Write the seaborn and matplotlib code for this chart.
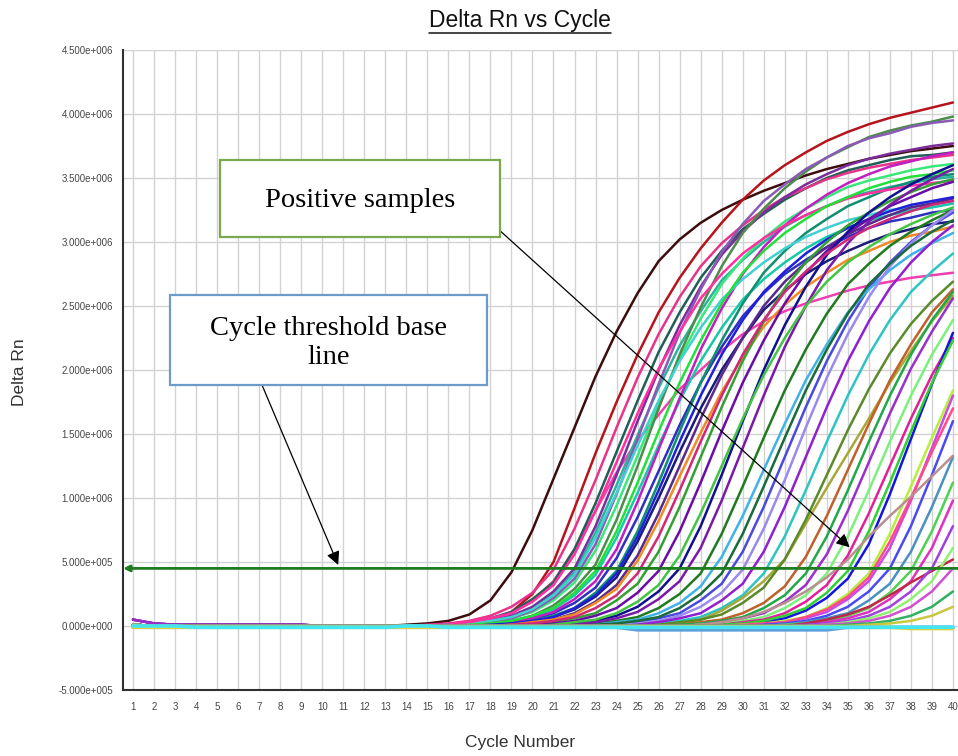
import numpy as np
import pandas as pd
import seaborn as sns
import matplotlib.pyplot as plt
from matplotlib.lines import Line2D
from matplotlib.patches import Rectangle

# ---- data (Delta Rn in units of 1e4) ----
unit = 1e4
cycles = list(range(1, 41))
threshold = 45  # 4.5e5

# cycles 1..13 (flat part before amplification)
lead_flat = [1, 0, 0, 0, 0, 0, 0, 0, 0, 0, 0, 0, 0]
lead_high = [5, 2, 1, 1, 1, 1, 1, 1, 1, 0, 0, 0, 0]

# cycles 14..40 for each well
brown = [1, 2, 4, 9, 20, 42, 75, 115, 155, 195, 230, 260, 285, 302, 315, 325, 333, 340, 346, 352, 357, 361, 365, 368, 371, 373, 375]
red = [0, 0, 1, 2, 5, 11, 25, 50, 92, 135, 175, 212, 245, 272, 295, 315, 333, 348, 360, 370, 379, 386, 392, 397, 401, 405, 409]
pink_slow = [0, 0, 1, 2, 5, 10, 20, 35, 60, 90, 120, 145, 165, 185, 200, 215, 228, 238, 246, 252, 257, 262, 266, 269, 272, 274, 276]

a1 = [0, 0, 1, 3, 6, 11, 21, 34, 60, 96, 136, 176, 214, 245, 272, 293, 310, 322, 333, 342, 350, 356, 360, 364, 367, 368, 370]
a2 = [0, 1, 2, 4, 8, 15, 26, 44, 76, 114, 155, 194, 228, 257, 281, 299, 313, 325, 335, 342, 349, 354, 358, 361, 364, 366, 368]
a3 = [0, 0, 1, 2, 4, 7, 14, 25, 42, 73, 110, 149, 186, 219, 246, 270, 286, 300, 312, 321, 328, 335, 339, 343, 346, 349, 351]
a4 = [0, 0, 1, 2, 4, 8, 15, 27, 45, 78, 118, 160, 200, 235, 265, 290, 308, 323, 335, 345, 353, 360, 365, 369, 372, 375, 377]
a5 = [0, 0, 0, 1, 3, 6, 11, 20, 34, 59, 94, 133, 173, 209, 240, 267, 287, 303, 316, 326, 335, 343, 348, 352, 356, 359, 361]
a6 = [0, 0, 0, 1, 2, 4, 7, 13, 24, 40, 69, 104, 141, 176, 207, 233, 255, 271, 284, 295, 304, 311, 317, 321, 325, 327, 330]
a7 = [0, 0, 0, 0, 1, 3, 5, 10, 18, 30, 53, 85, 121, 157, 190, 218, 242, 260, 275, 286, 296, 304, 311, 316, 319, 323, 325]
a8 = [0, 0, 0, 1, 2, 4, 8, 16, 29, 48, 83, 125, 170, 212, 249, 281, 307, 326, 342, 355, 366, 374, 382, 387, 391, 394, 398]
a9 = [0, 0, 0, 0, 1, 2, 3, 7, 13, 23, 38, 66, 100, 136, 170, 200, 225, 247, 262, 275, 285, 293, 300, 306, 310, 314, 316]
a10 = [0, 0, 0, 0, 1, 3, 6, 11, 21, 35, 60, 97, 138, 178, 216, 248, 275, 296, 313, 326, 337, 346, 353, 359, 363, 367, 370]
a11 = [0, 0, 0, 1, 3, 6, 12, 22, 37, 64, 103, 146, 189, 229, 263, 292, 314, 332, 345, 357, 366, 375, 381, 385, 390, 393, 395]
a12 = [0, 0, 0, 0, 1, 2, 4, 8, 14, 26, 43, 74, 112, 152, 190, 223, 252, 276, 293, 307, 318, 328, 335, 342, 347, 351, 353]
a13 = [0, 0, 1, 2, 4, 7, 13, 24, 40, 69, 104, 141, 176, 207, 233, 255, 271, 284, 295, 304, 311, 317, 321, 325, 327, 330, 332]
a14 = [0, 0, 0, 0, 0, 1, 3, 5, 10, 19, 32, 55, 88, 125, 162, 196, 225, 250, 269, 284, 296, 306, 314, 321, 327, 330, 334]
a15 = [0, 0, 1, 3, 6, 10, 19, 32, 56, 90, 128, 166, 201, 230, 256, 275, 291, 303, 313, 321, 328, 334, 338, 341, 344, 346, 348]
a16 = [0, 0, 0, 1, 2, 4, 8, 14, 26, 43, 74, 112, 152, 190, 223, 252, 276, 293, 307, 318, 328, 335, 342, 347, 351, 353, 356]
a17 = [0, 0, 0, 0, 1, 2, 4, 7, 14, 24, 41, 70, 106, 144, 180, 212, 239, 261, 277, 291, 302, 311, 318, 324, 329, 332, 335]

b1 = [0, 0, 0, 0, 0, 1, 3, 5, 9, 18, 29, 51, 82, 117, 151, 183, 210, 234, 251, 265, 276, 286, 293, 300, 305, 308, 312]
b2 = [0, 0, 0, 0, 0, 0, 1, 3, 6, 10, 20, 33, 58, 93, 132, 171, 207, 238, 264, 284, 300, 313, 323, 332, 339, 345, 349]
b3 = [0, 0, 0, 0, 0, 0, 1, 2, 4, 8, 14, 26, 43, 74, 112, 152, 190, 223, 252, 276, 293, 307, 318, 328, 335, 342, 347]
b4 = [0, 0, 0, 0, 0, 0, 0, 1, 2, 4, 8, 15, 27, 45, 78, 118, 160, 200, 235, 265, 290, 308, 323, 335, 345, 353, 360]
b5 = [0, 0, 0, 0, 0, 0, 0, 0, 1, 2, 4, 7, 14, 25, 41, 72, 109, 147, 184, 216, 244, 267, 283, 297, 308, 317, 325]
b6 = [0, 0, 0, 0, 0, 0, 0, 0, 0, 0, 1, 3, 6, 10, 20, 33, 58, 93, 132, 171, 207, 238, 264, 284, 300, 313, 323]
b7 = [0, 0, 0, 0, 0, 0, 0, 0, 0, 1, 3, 5, 10, 18, 31, 54, 86, 122, 158, 192, 220, 245, 263, 278, 290, 299, 307]
b8 = [0, 0, 0, 0, 0, 0, 0, 0, 0, 0, 1, 2, 4, 8, 15, 26, 44, 76, 114, 155, 194, 228, 257, 281, 299, 313, 325]
b9 = [0, 0, 0, 0, 0, 0, 0, 0, 1, 3, 6, 11, 21, 35, 61, 98, 139, 180, 218, 250, 278, 299, 316, 329, 340, 349, 357]
b10 = [0, 0, 0, 0, 0, 0, 0, 0, 0, 0, 0, 1, 2, 4, 7, 14, 24, 41, 70, 106, 144, 180, 212, 239, 261, 277, 291]
b11 = [0, 0, 0, 0, 0, 0, 0, 1, 3, 5, 10, 19, 32, 55, 88, 125, 162, 196, 225, 250, 269, 284, 296, 306, 314, 321, 327]
b12 = [0, 0, 0, 0, 0, 0, 0, 0, 0, 0, 0, 1, 3, 6, 10, 20, 33, 58, 93, 132, 171, 207, 238, 264, 284, 300, 313]
b13 = [0, 0, 0, 0, 0, 0, 0, 0, 0, 1, 2, 4, 7, 14, 25, 41, 72, 109, 147, 184, 216, 244, 267, 283, 297, 308, 317]
b14 = [0, 0, 0, 0, 0, 1, 2, 4, 7, 14, 24, 41, 70, 106, 144, 180, 212, 239, 261, 277, 291, 302, 311, 318, 324, 329, 332]

c1 = [0, 0, 0, 0, 0, 0, 0, 0, 0, 0, 0, 0, 0, 2, 5, 12, 22, 35, 52, 80, 108, 135, 162, 190, 215, 238, 258]
c2 = [0, 0, 0, 0, 0, 0, 0, 0, 0, 0, 0, 0, 1, 3, 5, 9, 18, 30, 52, 83, 118, 153, 185, 213, 236, 254, 269]
c3 = [0, 0, 0, 0, 0, 0, 0, 0, 0, 0, 0, 0, 0, 1, 3, 5, 10, 18, 31, 54, 86, 122, 158, 192, 220, 245, 263]
c4 = [0, 0, 0, 0, 0, 0, 0, 0, 0, 0, 0, 0, 0, 1, 2, 4, 7, 14, 24, 41, 70, 106, 144, 180, 212, 239, 261]
c5 = [0, 0, 0, 0, 0, 0, 0, 0, 0, 0, 0, 0, 0, 0, 1, 3, 6, 10, 19, 32, 56, 90, 128, 166, 201, 230, 256]
c6 = [0, 0, 0, 0, 0, 0, 0, 0, 0, 0, 0, 0, 0, 0, 1, 2, 4, 7, 14, 24, 41, 70, 106, 144, 180, 212, 239]
c7 = [0, 0, 0, 0, 0, 0, 0, 0, 0, 0, 0, 0, 0, 0, 0, 1, 3, 5, 10, 19, 32, 55, 88, 125, 162, 196, 225]
c8 = [0, 0, 0, 0, 0, 0, 0, 0, 0, 0, 0, 0, 0, 0, 0, 0, 1, 3, 6, 12, 22, 37, 64, 103, 146, 189, 229]
c9 = [0, 0, 0, 0, 0, 0, 0, 0, 0, 0, 0, 0, 0, 0, 0, 1, 2, 4, 8, 14, 26, 43, 74, 112, 152, 190, 223]
c10 = [0, 0, 0, 0, 0, 0, 0, 0, 0, 0, 0, 0, 0, 0, 0, 0, 1, 2, 4, 7, 14, 25, 41, 72, 109, 147, 184]
c11 = [0, 0, 0, 0, 0, 0, 0, 0, 0, 0, 0, 0, 0, 0, 0, 0, 0, 1, 3, 6, 11, 21, 35, 61, 98, 139, 180]
c12 = [0, 0, 0, 0, 0, 0, 0, 0, 0, 0, 0, 0, 0, 0, 0, 0, 1, 2, 3, 7, 13, 23, 38, 66, 100, 136, 170]
c13 = [0, 0, 0, 0, 0, 0, 0, 0, 0, 0, 0, 0, 0, 0, 0, 0, 0, 1, 2, 4, 8, 15, 27, 45, 78, 118, 160]
c14 = [0, 0, 0, 0, 0, 0, 0, 0, 0, 0, 0, 0, 0, 0, 0, 0, 0, 0, 1, 3, 6, 10, 20, 33, 58, 93, 132]
c15 = [0, 0, 0, 0, 0, 0, 0, 0, 0, 0, 0, 0, 0, 0, 0, 0, 0, 0, 1, 2, 4, 8, 14, 26, 43, 74, 112]
c16 = [0, 0, 0, 0, 0, 0, 0, 0, 0, 0, 0, 0, 0, 0, 1, 3, 6, 11, 18, 27, 38, 52, 70, 86, 101, 117, 133]
c17 = [0, 0, 0, 0, 0, 0, 0, 0, 0, 0, 0, 0, 0, 0, 0, 0, 0, 0, 0, 1, 3, 6, 11, 21, 35, 61, 98]
c18 = [0, 0, 0, 0, 0, 0, 0, 0, 0, 0, 0, 0, 0, 0, 0, 0, 0, 0, 0, 2, 5, 9, 15, 24, 34, 43, 52]
c19 = [0, 0, 0, 0, 0, 0, 0, 0, 0, 0, 0, 0, 0, 0, 0, 0, 0, 0, 0, 1, 2, 4, 8, 15, 27, 45, 78]
c20 = [0, 0, 0, 0, 0, 0, 0, 0, 0, 0, 0, 0, 0, 0, 0, 0, 0, 0, 0, 0, 1, 3, 6, 11, 21, 35, 61]
c21 = [0, 0, 0, 0, 0, 0, 0, 0, 0, 0, 0, 0, 0, 0, 0, 0, 0, 0, 0, 0, 1, 2, 4, 8, 15, 27, 45]
c22 = [0, 0, 0, 0, 0, 0, 0, 0, 0, 0, 0, 0, 0, 0, 0, 0, 0, 0, 0, 0, 0, 1, 2, 4, 8, 15, 27]
c23 = [0, 0, 0, 0, 0, 0, 0, 0, 0, 0, 0, 0, 0, 0, 0, 0, 0, 0, 0, 0, 0, 0, 1, 2, 4, 8, 15]

# negative / flat wells, all 40 cycles
flat_blue = [-1, -1, -1, -1, -1, -1, -1, -1, -1, -1, -1, -1, -1, -1, -1, -1, -1, -1, -1, -1,
             -1, -1, -1, -1, -3, -3, -3, -3, -3, -3, -3, -3, -3, -3, -1, -1, -1, -1, -1, -1]
flat_yellow = [-1, -1, -1, -1, -1, -1, -1, -1, -1, -1, -1, -1, -1, -1, -1, -1, -1, -1, -1, -1,
               -1, -1, -1, -1, -1, -1, -1, -1, -1, -1, -1, -1, -1, -1, -1, -1, -1, -2, -2, -2]
flat_cyan = [0, 0, 0, -1, -1, -1, -1, -1, -1, -1, -1, -1, -1, 0, 0, -1, -1, -1, -1, -1,
             -1, -1, -1, -1, -1, -1, -1, -1, -1, -1, -1, -1, -1, -1, -1, -1, -1, -1, -1, -1]

well_names = ["brown", "red", "pink_slow",
              "a1", "a2", "a3", "a4", "a5", "a6", "a7", "a8", "a9", "a10", "a11", "a12", "a13", "a14", "a15", "a16", "a17",
              "b1", "b2", "b3", "b4", "b5", "b6", "b7", "b8", "b9", "b10", "b11", "b12", "b13", "b14",
              "c1", "c2", "c3", "c4", "c5", "c6", "c7", "c8", "c9", "c10", "c11", "c12", "c13", "c14", "c15",
              "c16", "c17", "c18", "c19", "c20", "c21", "c22", "c23"]
well_values = [brown, red, pink_slow,
               a1, a2, a3, a4, a5, a6, a7, a8, a9, a10, a11, a12, a13, a14, a15, a16, a17,
               b1, b2, b3, b4, b5, b6, b7, b8, b9, b10, b11, b12, b13, b14,
               c1, c2, c3, c4, c5, c6, c7, c8, c9, c10, c11, c12, c13, c14, c15,
               c16, c17, c18, c19, c20, c21, c22, c23]
high_start = ["a4", "a11", "b3", "c5"]

well_colors = {
    "brown": "#3d0c0c", "red": "#b5141c", "pink_slow": "#f040b0",
    "a1": "#1f5f55", "a2": "#e8338a", "a3": "#2bb39b", "a4": "#7b2d9b", "a5": "#39e87a",
    "a6": "#18c8a8", "a7": "#2f2fc0", "a8": "#4c8c4c", "a9": "#1b1b7a", "a10": "#c21fc2",
    "a11": "#8a5ab5", "a12": "#0f8f6f", "a13": "#40d0d0", "a14": "#5a2a8a", "a15": "#ff2fa0",
    "a16": "#22e03a", "a17": "#2020d8",
    "b1": "#f08a24", "b2": "#34a034", "b3": "#6a0ca6", "b4": "#101090", "b5": "#207a20",
    "b6": "#4a4ae0", "b7": "#3fb2e6", "b8": "#9a8af0", "b9": "#7a1aa8", "b10": "#2ec4c4",
    "b11": "#44c444", "b12": "#9020d0", "b13": "#1a6a3a", "b14": "#d02878",
    "c1": "#a8a838", "c2": "#5a8a2a", "c3": "#c0602a", "c4": "#22a848", "c5": "#9a30c8",
    "c6": "#7cf07c", "c7": "#e0209a", "c8": "#1515e0", "c9": "#30d030", "c10": "#b4f03a",
    "c11": "#c848e8", "c12": "#ff4a8a", "c13": "#4a4af5", "c14": "#4a90c0", "c15": "#50d050",
    "c16": "#b89090", "c17": "#e030c0", "c18": "#c02848", "c19": "#a040e0", "c20": "#90f070",
    "c21": "#d050d0", "c22": "#30b060", "c23": "#c8c840",
}
flat_colors = {"flat_blue": "#5a9ee0", "flat_yellow": "#e0d040", "flat_cyan": "#44e6f2"}

# ---- long table ----
rows = []
for name, vals in zip(well_names, well_values):
    assert len(vals) == 27, name
    lead = lead_high if name in high_start else lead_flat
    for cyc, v in zip(cycles, lead + vals):
        rows.append((name, cyc, v * unit))
df = pd.DataFrame(rows, columns=["Well", "Cycle", "DeltaRn"])

flat_rows = []
for name, vals in [("flat_blue", flat_blue), ("flat_yellow", flat_yellow), ("flat_cyan", flat_cyan)]:
    for cyc, v in zip(cycles, vals):
        flat_rows.append((name, cyc, v * unit))
df_flat = pd.DataFrame(flat_rows, columns=["Well", "Cycle", "DeltaRn"])

# ---- style ----
sns.set_style("whitegrid", {"grid.color": "#d2d2d2", "axes.edgecolor": "#303030"})
plt.rcParams["font.family"] = ["Liberation Sans", "DejaVu Sans"]

fig = plt.figure(figsize=(9.58, 7.56), dpi=100)
ax = fig.add_axes([123 / 958, 1 - 690 / 756, 835 / 958, 640 / 756])

sns.lineplot(data=df, x="Cycle", y="DeltaRn", hue="Well", hue_order=well_names,
             palette=well_colors, legend=False, linewidth=1.8, estimator=None, ax=ax, zorder=2)
sns.lineplot(data=df_flat, x="Cycle", y="DeltaRn", hue="Well",
             palette=flat_colors, legend=False, linewidth=2.6, estimator=None, ax=ax, zorder=3)

# threshold line with arrowhead at the left end
ax.annotate("", xy=(0.53, threshold * unit), xytext=(40.3, threshold * unit),
            arrowprops=dict(arrowstyle="-|>", color="#1e7d1e", lw=2.0, mutation_scale=9,
                            shrinkA=0, shrinkB=0), zorder=4, annotation_clip=False)

ax.set_xlim(0.524, 40.24)
ax.set_ylim(-5e5, 4.5e6)
ax.set_xticks(cycles)
ax.set_yticks(np.arange(-5e5, 4.5e6 + 1, 5e5))


def sci(v, pos):
    if abs(v) < 1:
        return "0.000e+000"
    e = int(np.floor(np.log10(abs(v))))
    m = v / 10 ** e
    return f"{m:.3f}e{'+' if e >= 0 else '-'}{abs(e):03d}"


ax.yaxis.set_major_formatter(plt.FuncFormatter(sci))
ax.tick_params(axis="x", length=0, pad=9, labelsize=7, labelcolor="#454545")
ax.tick_params(axis="y", length=0, pad=7, labelsize=7, labelcolor="#454545")
ax.grid(True, color="#d2d2d2", lw=1.0)
ax.set_xlabel("")
ax.set_ylabel("")
for s in ["top", "right"]:
    ax.spines[s].set_visible(False)
for s in ["left", "bottom"]:
    ax.spines[s].set_linewidth(1.5)
    ax.spines[s].set_color("#303030")

fig.text(20 / 958, 1 - 372 / 756, "Delta Rn", rotation=90, ha="center", va="center",
         fontsize=12.5, color="#333333")
fig.text(520 / 958, 1 - 743 / 756, "Cycle Number", ha="center", va="center",
         fontsize=12.5, color="#333333")

# underlined title
title = fig.text(520 / 958, 1 - 27 / 756, "Delta Rn vs Cycle", ha="center", va="baseline",
                 fontsize=16.5, color="#111111")
fig.canvas.draw()
bb = title.get_window_extent()
fig.add_artist(Line2D([bb.x0 / 958, bb.x1 / 958], [(bb.y0 - 1) / 756, (bb.y0 - 1) / 756],
                      color="#111111", lw=1.1))

# annotation boxes
serif = ["Liberation Serif", "DejaVu Serif"]
fig.add_artist(Rectangle((220 / 958, 1 - 237 / 756), 280 / 958, 77 / 756, transform=fig.transFigure,
                         facecolor="white", edgecolor="#78a94c", lw=1.6, zorder=5))
fig.text(360 / 958, 1 - 207 / 756, "Positive samples", ha="center", va="baseline",
         fontsize=20.5, family=serif, color="black", zorder=6)

fig.add_artist(Rectangle((170 / 958, 1 - 385 / 756), 317 / 958, 90 / 756, transform=fig.transFigure,
                         facecolor="white", edgecolor="#6b9bc8", lw=1.6, zorder=5))
fig.text(329 / 958, 1 - 335 / 756, "Cycle threshold base", ha="center", va="baseline",
         fontsize=20.5, family=serif, color="black", zorder=6)
fig.text(329 / 958, 1 - 364 / 756, "line", ha="center", va="baseline",
         fontsize=20.5, family=serif, color="black", zorder=6)

# arrows
ax.annotate("", xy=(35.09, 6.15e5), xycoords="data", xytext=(497, 756 - 228),
            textcoords="figure pixels",
            arrowprops=dict(arrowstyle="-|>", color="black", lw=0.9, mutation_scale=20,
                            shrinkA=0, shrinkB=0), zorder=7, annotation_clip=False)
ax.annotate("", xy=(10.76, 4.77e5), xycoords="data", xytext=(262, 756 - 385),
            textcoords="figure pixels",
            arrowprops=dict(arrowstyle="-|>", color="black", lw=0.9, mutation_scale=20,
                            shrinkA=0, shrinkB=0), zorder=7, annotation_clip=False)

fig.savefig("out.png", dpi=100)
